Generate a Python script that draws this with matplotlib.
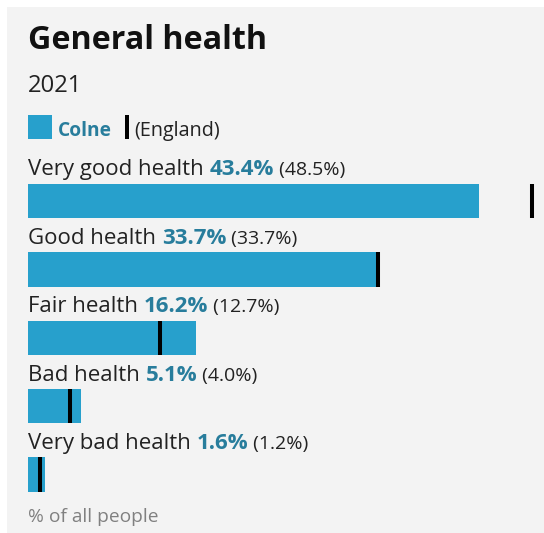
import matplotlib.pyplot as plt
from matplotlib.patches import Rectangle

plt.rcParams['font.family'] = ['Open Sans', 'DejaVu Sans']

categories = ['Very good health', 'Good health', 'Fair health', 'Bad health', 'Very bad health']
colne = [43.4, 33.7, 16.2, 5.1, 1.6]
england = [48.5, 33.7, 12.7, 4.0, 1.2]

W, H, DPI = 544, 533, 100
bar_col = '#27a0cc'
val_col = '#287d9c'
txt_col = '#222222'

fig = plt.figure(figsize=(W / DPI, H / DPI), dpi=DPI, facecolor='white')

# grey panel
fig.patches.append(Rectangle((7 / W, 0), 1, 1 - 7 / H, transform=fig.transFigure,
                             facecolor='#f3f3f3', edgecolor='none', zorder=-10))

def fy(px):
    return 1 - px / H

# header
fig.text(28 / W, fy(48.7), 'General health', fontsize=23.2, fontweight='bold',
         color='#111111', va='baseline')
fig.text(28 / W, fy(91.5), '2021', fontsize=17.2, color=txt_col, va='baseline')
fig.patches.append(Rectangle((28 / W, fy(139)), 24 / W, 24 / H, transform=fig.transFigure,
                             facecolor=bar_col, edgecolor='none'))
fig.text(58 / W, fy(136), 'Colne', fontsize=13.8, fontweight='bold', color=val_col, va='baseline')
fig.patches.append(Rectangle((125 / W, fy(139)), 4 / W, 24 / H, transform=fig.transFigure,
                             facecolor='black', edgecolor='none'))
fig.text(134 / W, fy(136), '(England)', fontsize=14.2, color=txt_col, va='baseline')
fig.text(28 / W, fy(522), '% of all people', fontsize=13.8, color='#808080', va='baseline')

# bars
ax = fig.add_axes([28 / W, fy(508.7), 1 - 28 / W, (508.7 - 166.8) / H])
ax.set_facecolor('none')
ypos = list(range(len(categories)))
ax.barh(ypos, colne, height=0.504, color=bar_col)
ax.vlines(england, [y - 0.252 for y in ypos], [y + 0.252 for y in ypos],
          colors='black', linewidth=2.9, capstyle='butt')
ax.set_xlim(0, 516 / 10.4)
ax.set_ylim(len(categories) - 0.5, -0.5)
ax.axis('off')

fig.canvas.draw()
renderer = fig.canvas.get_renderer()

for y, cat, c, e in zip(ypos, categories, colne, england):
    parts = [(cat + ' ', 16, 'normal', txt_col),
             ('{:.1f}%'.format(c), 16, 'bold', val_col),
             (' ({:.1f}%)'.format(e), 14, 'normal', txt_col)]
    dx = 0
    for s, size, weight, col in parts:
        t = ax.annotate(s, xy=(0, y), xycoords='data', xytext=(dx, 25.5 * 72 / DPI),
                        textcoords='offset points', fontsize=size, fontweight=weight,
                        color=col, va='baseline', ha='left', annotation_clip=False)
        w = t.get_window_extent(renderer).width
        dx += w * 72 / DPI

fig.savefig('out.png', dpi=DPI, facecolor=fig.get_facecolor())
